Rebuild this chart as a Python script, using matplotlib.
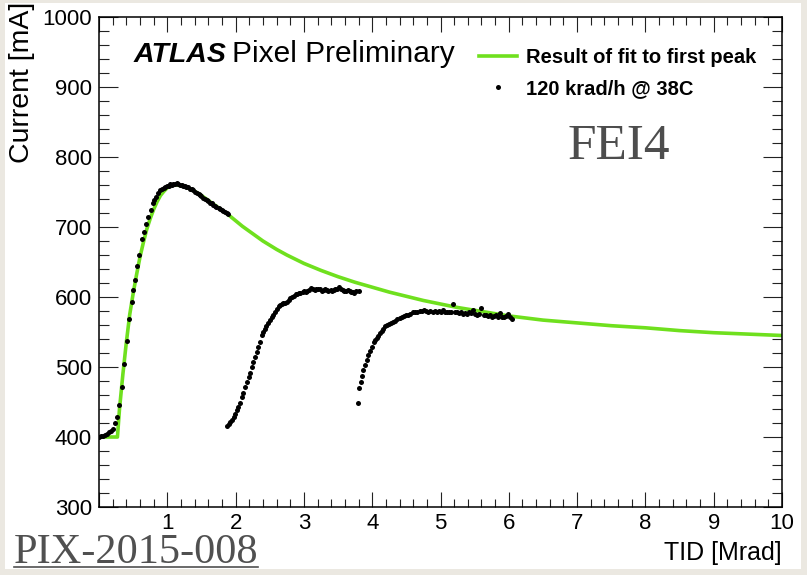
import matplotlib as mpl
mpl.use('Agg')
import matplotlib.pyplot as plt
from matplotlib.lines import Line2D
from matplotlib.patches import Rectangle
from matplotlib.ticker import MultipleLocator, FuncFormatter

# measured data: first irradiation step (ramp up, peak, decay)
seg1_tid = [0.00, 0.03, 0.06, 0.09, 0.12, 0.15, 0.18, 0.21, 0.24, 0.26, 0.30, 0.33, 0.37, 0.41,
            0.44, 0.48, 0.50, 0.53, 0.56, 0.59, 0.63, 0.66, 0.69, 0.72, 0.76, 0.79, 0.81, 0.83,
            0.86, 0.89, 0.92, 0.95, 0.97, 1.00, 1.02, 1.04, 1.07, 1.09, 1.12, 1.14, 1.16, 1.19,
            1.21, 1.23, 1.26, 1.28, 1.31, 1.33, 1.36, 1.38, 1.41, 1.43, 1.46, 1.48, 1.50, 1.53,
            1.55, 1.58, 1.60, 1.62, 1.65, 1.67, 1.70, 1.72, 1.75, 1.77, 1.80, 1.82, 1.84, 1.87, 1.89]
seg1_cur = [400, 401, 402, 403, 405, 407, 409, 412, 420, 429, 446, 471, 504, 537,
            569, 593, 610, 624, 644, 660, 683, 693, 705, 714, 724, 734, 739, 743,
            748, 753, 754, 756, 757, 759, 759, 761, 760, 762, 761, 763, 761, 760,
            760, 759, 758, 757, 757, 755, 754, 753, 750, 749, 747, 746, 744, 742,
            740, 739, 737, 735, 734, 732, 730, 729, 727, 726, 724, 723, 721, 720, 718]

# second step
seg2_tid = [1.88, 1.90, 1.92, 1.94, 1.97, 1.99, 2.02, 2.04, 2.06, 2.09, 2.11, 2.14, 2.16, 2.19,
            2.21, 2.24, 2.26, 2.28, 2.31, 2.33, 2.35, 2.38, 2.40, 2.43, 2.45, 2.48, 2.50, 2.53,
            2.55, 2.58, 2.60, 2.63, 2.65, 2.68, 2.70, 2.73, 2.75, 2.78, 2.80, 2.83, 2.85, 2.88,
            2.90, 2.93, 2.95, 2.98, 3.00, 3.03, 3.05, 3.08, 3.11, 3.13, 3.16, 3.18, 3.21, 3.24,
            3.26, 3.29, 3.31, 3.34, 3.36, 3.39, 3.41, 3.44, 3.46, 3.49, 3.52, 3.54, 3.57, 3.59,
            3.62, 3.64, 3.67, 3.69, 3.72, 3.74, 3.77, 3.80]
seg2_cur = [416, 419, 422, 425, 429, 433, 439, 443, 448, 457, 463, 472, 478, 486,
            492, 500, 507, 515, 522, 529, 536, 546, 550, 554, 558, 563, 567, 572,
            575, 579, 583, 587, 589, 590, 591, 592, 593, 596, 598, 600, 601, 604,
            605, 606, 606, 607, 608, 607, 609, 610, 613, 611, 610, 612, 611, 611,
            609, 610, 611, 610, 609, 610, 609, 610, 611, 612, 614, 611, 610, 609,
            609, 610, 608, 607, 607, 606, 608, 609]

# third step
seg3_tid = [3.79, 3.81, 3.83, 3.85, 3.87, 3.89, 3.92, 3.94, 3.97, 3.99, 4.02, 4.04, 4.07, 4.09,
            4.11, 4.14, 4.16, 4.19, 4.21, 4.24, 4.27, 4.31, 4.34, 4.37, 4.41, 4.44, 4.47, 4.50,
            4.53, 4.56, 4.60, 4.63, 4.66, 4.70, 4.73, 4.76, 4.79, 4.82, 4.85, 4.89, 4.92, 4.95,
            4.98, 5.01, 5.04, 5.07, 5.10, 5.13, 5.16, 5.19, 5.21, 5.24, 5.27, 5.30, 5.33, 5.36,
            5.39, 5.42, 5.45, 5.48, 5.51, 5.54, 5.57, 5.60, 5.63, 5.66, 5.69, 5.72, 5.75, 5.78,
            5.81, 5.84, 5.87, 5.90, 5.93, 5.96, 5.99, 6.02, 6.04]
seg3_cur = [448, 470, 479, 487, 496, 503, 510, 517, 523, 529, 536, 538, 541, 545,
            548, 552, 555, 558, 560, 562, 563, 565, 566, 568, 570, 571, 573, 574,
            575, 576, 578, 578, 579, 580, 580, 581, 580, 579, 580, 579, 580, 579,
            580, 579, 581, 579, 578, 579, 578, 590, 579, 578, 577, 578, 576, 577,
            576, 578, 577, 581, 576, 575, 576, 584, 575, 574, 573, 575, 572, 573,
            574, 572, 577, 572, 571, 573, 576, 571, 569]

# fit to first peak
fit_tid = [0.00, 0.27, 0.30, 0.35, 0.40, 0.45, 0.50, 0.55, 0.60, 0.65, 0.70, 0.75, 0.80, 0.85,
           0.90, 0.95, 1.00, 1.05, 1.10, 1.15, 1.20, 1.30, 1.40, 1.50, 1.60, 1.70, 1.80, 1.90,
           2.00, 2.10, 2.20, 2.30, 2.40, 2.50, 2.60, 2.75, 3.00, 3.25, 3.50, 3.75, 4.00, 4.25,
           4.50, 4.75, 5.00, 5.25, 5.50, 5.75, 6.00, 6.50, 7.00, 7.50, 8.00, 8.50, 9.00, 9.50, 10.0]
fit_cur = [400, 400, 440, 490, 535, 575, 605, 632, 657, 678, 697, 712, 725, 736,
           745, 751, 756, 759, 760, 760, 759, 756, 751, 745, 738, 731, 724, 717,
           709, 701, 694, 687, 680, 674, 668, 660, 648, 638, 629, 621, 614, 607,
           601, 595, 590, 585, 581, 577, 573, 567, 563, 559, 556, 552, 549, 547, 545]

plt.rcParams['font.family'] = ['Liberation Sans', 'DejaVu Sans']

W, H = 807, 575
fig = plt.figure(figsize=(W / 100, H / 100), dpi=100, facecolor='#ebe8e1')
# white canvas on the beige page
fig.patches.append(Rectangle((5 / W, 6 / H), 796 / W, 566 / H, transform=fig.transFigure,
                             facecolor='white', edgecolor='none', zorder=-5))

ax = fig.add_axes([99 / W, 1 - 507 / H, 683 / W, 490 / H])
ax.set_facecolor('white')

green = '#6fe01e'
ax.plot(fit_tid, fit_cur, '-', color=green, lw=2.6, zorder=2)
for tid, cur in [(seg1_tid, seg1_cur), (seg2_tid, seg2_cur), (seg3_tid, seg3_cur)]:
    ax.plot(tid, cur, 'o', color='black', ms=3.6, mew=0, zorder=3)

ax.set_xlim(0, 10)
ax.set_ylim(300, 1000)
ax.xaxis.set_major_locator(MultipleLocator(1))
ax.xaxis.set_minor_locator(MultipleLocator(0.2))
ax.yaxis.set_major_locator(MultipleLocator(100))
ax.yaxis.set_minor_locator(MultipleLocator(20))
ax.xaxis.set_major_formatter(FuncFormatter(lambda v, p: '' if v == 0 else '%d' % v))

ax.tick_params(which='both', direction='in', top=True, right=True, color='#222222', width=0.8)
ax.tick_params(axis='x', which='major', length=10.5, labelsize=16, pad=4)
ax.tick_params(axis='x', which='minor', length=5.5)
ax.tick_params(axis='y', which='major', length=13.5, labelsize=16, pad=5)
ax.tick_params(axis='y', which='minor', length=7)
for s in ax.spines.values():
    s.set_linewidth(1.1)

fig.text(22 / W, 1 - 2 / H, 'Current [mA]', rotation=90, ha='center', va='top', fontsize=20.5)
fig.text(782 / W, 1 - 553 / H, 'TID [Mrad]', ha='right', va='center', fontsize=18)

ax.text(0.051, 0.908, 'ATLAS', transform=ax.transAxes, fontsize=20.5,
        fontweight='bold', fontstyle='italic')
ax.text(0.195, 0.908, 'Pixel Preliminary', transform=ax.transAxes, fontsize=21.5)

handles = [Line2D([], [], color=green, lw=2.6),
           Line2D([], [], ls='none', marker='o', ms=3.6, mew=0, color='black')]
ax.legend(handles, ['Result of fit to first peak', '120 krad/h @ 38C'],
          loc='upper left', bbox_to_anchor=(0.556, 0.937), frameon=False,
          prop={'weight': 'bold', 'size': 14.5}, handlelength=1.9, handletextpad=0.45,
          labelspacing=0.6, borderpad=0, borderaxespad=0)

ax.text(0.686, 0.71, 'FEI4', transform=ax.transAxes, fontsize=37, color='#4d4d4d',
        family='Liberation Serif')
fig.text(14 / W, 1 - 563 / H, 'PIX-2015-008', fontsize=30.5, color='#505050',
         family='Liberation Serif', va='baseline')
fig.lines.append(Line2D([14 / W, 258 / W], [1 - 567 / H, 1 - 567 / H], transform=fig.transFigure,
                        color='#505050', lw=1.2))

fig.savefig('out.png', dpi=100, facecolor=fig.get_facecolor())
